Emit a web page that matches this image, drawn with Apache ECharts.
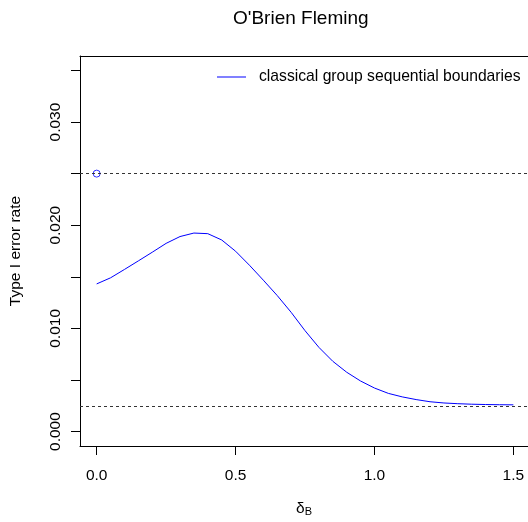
<!DOCTYPE html>
<html>
<head>
<meta charset="utf-8">
<script src="https://cdn.jsdelivr.net/npm/echarts@6/dist/echarts.min.js"></script>
<style>html,body{margin:0;padding:0;background:#fff;}#c{width:528px;height:522px;}</style>
</head>
<body>
<div id="c"></div>
<script>
const deltaB = [0,0.05,0.1,0.15,0.2,0.25,0.3,0.35,0.4,0.45,0.5,0.55,0.6,0.65,0.7,0.75,0.8,0.85,0.9,0.95,1.0,1.05,1.1,1.15,1.2,1.25,1.3,1.35,1.4,1.45,1.5];
const typeIError = [0.01431,0.0149,0.01571,0.01654,0.01738,0.01824,0.0189,0.01924,0.01918,0.01857,0.01748,0.01612,0.01467,0.01318,0.01156,0.00978,0.00816,0.00681,0.00575,0.0049,0.00422,0.0037,0.00336,0.0031,0.00289,0.00277,0.0027,0.00265,0.00262,0.0026,0.00259];
const pointX = [0];
const pointY = [0.025];
const refLines = [0.025, 0.0025];
const xTicks = [0, 0.5, 1.0, 1.5];
const xTickLabels = ['0.0', '0.5', '1.0', '1.5'];
const yTicks = [0, 0.005, 0.01, 0.015, 0.02, 0.025, 0.03, 0.035];
const yLabelValues = [0, 0.01, 0.02, 0.03];
const yTickLabels = ['0.000', '0.010', '0.020', '0.030'];
const seriesName = 'classical group sequential boundaries';
const FONT = 'Liberation Sans, Arial, Helvetica, sans-serif';

const X_MIN = -0.06, X_MAX = 1.5527, Y_MIN = -0.0014, Y_MAX = 0.0364;

const chart = echarts.init(document.getElementById('c'), null, {renderer: 'canvas'});
chart.setOption({
  animation: false,
  backgroundColor: '#fff',
  textStyle: {fontFamily: FONT},
  title: {
    text: "O'Brien Fleming",
    left: 228, top: 4,
    textStyle: {fontFamily: FONT, fontSize: 19, fontWeight: 'normal', color: '#000'}
  },
  legend: {
    left: 212, top: 64,
    itemWidth: 29, itemHeight: 1,
    data: [{name: seriesName, icon: 'rect'}],
    textStyle: {fontFamily: FONT, fontSize: 15.7, color: '#000', padding: [0,0,0,8]}
  },
  grid: {
    left: 80, top: 56, width: 448, height: 393,
    show: false
  },
  xAxis: [{
    type: 'value', min: X_MIN, max: X_MAX, position: 'bottom',
    axisLine: {show: true, onZero: false, lineStyle: {color: '#000', width: 1}},
    splitLine: {show: false},
    axisTick: {show: true, customValues: xTicks, length: 9, lineStyle: {color: '#000'}},
    axisLabel: {
      customValues: xTicks, margin: 22,
      formatter: v => { const i = xTicks.findIndex(t => Math.abs(t - v) < 1e-9); return i >= 0 ? xTickLabels[i] : ''; },
      fontFamily: FONT, fontSize: 15.5, color: '#000'
    },
    name: '{a|δ}{b|B}',
    nameLocation: 'middle', nameGap: 54,
    nameTextStyle: {
      rich: {
        a: {fontFamily: FONT, fontSize: 15.5, color: '#000'},
        b: {fontFamily: FONT, fontSize: 11, color: '#000', verticalAlign: 'bottom', padding: [6,0,0,0]}
      }
    }
  }, {
    type: 'value', min: X_MIN, max: X_MAX, position: 'top',
    axisLine: {show: true, onZero: false, lineStyle: {color: '#000', width: 1}},
    splitLine: {show: false}, axisTick: {show: false}, axisLabel: {show: false}
  }],
  yAxis: {
    type: 'value', min: Y_MIN, max: Y_MAX,
    axisLine: {show: true, onZero: false, lineStyle: {color: '#000', width: 1}},
    splitLine: {show: false},
    axisTick: {show: true, customValues: yTicks, length: 9, lineStyle: {color: '#000'}},
    axisLabel: {
      customValues: yLabelValues, rotate: 90, margin: 16,
      formatter: v => { const i = yLabelValues.findIndex(t => Math.abs(t - v) < 1e-9); return i >= 0 ? yTickLabels[i] : ''; },
      fontFamily: FONT, fontSize: 15.5, color: '#000'
    },
    name: 'Type I error rate',
    nameLocation: 'middle', nameGap: 56, nameRotate: 90,
    nameTextStyle: {fontFamily: FONT, fontSize: 15.5, color: '#000'}
  },
  series: [
    {
      name: seriesName,
      type: 'line',
      xAxisIndex: 0,
      data: deltaB.map((x, i) => [x, typeIError[i]]),
      showSymbol: false,
      smooth: false,
      lineStyle: {color: '#0000ff', width: 1},
      itemStyle: {color: '#0000ff'},
      markLine: {
        silent: true, symbol: ['none', 'none'], precision: 6,
        label: {show: false},
        lineStyle: {color: '#333', type: [3, 3], width: 1},
        data: refLines.map(v => ({yAxis: v}))
      },
      z: 3
    },
    {
      name: 'point',
      type: 'scatter',
      xAxisIndex: 0,
      data: pointX.map((x, i) => [x, pointY[i]]),
      symbol: 'circle', symbolSize: 7,
      itemStyle: {color: '#fff', borderColor: '#0000ff', borderWidth: 1},
      z: 4
    }
  ]
});
</script>
</body>
</html>
